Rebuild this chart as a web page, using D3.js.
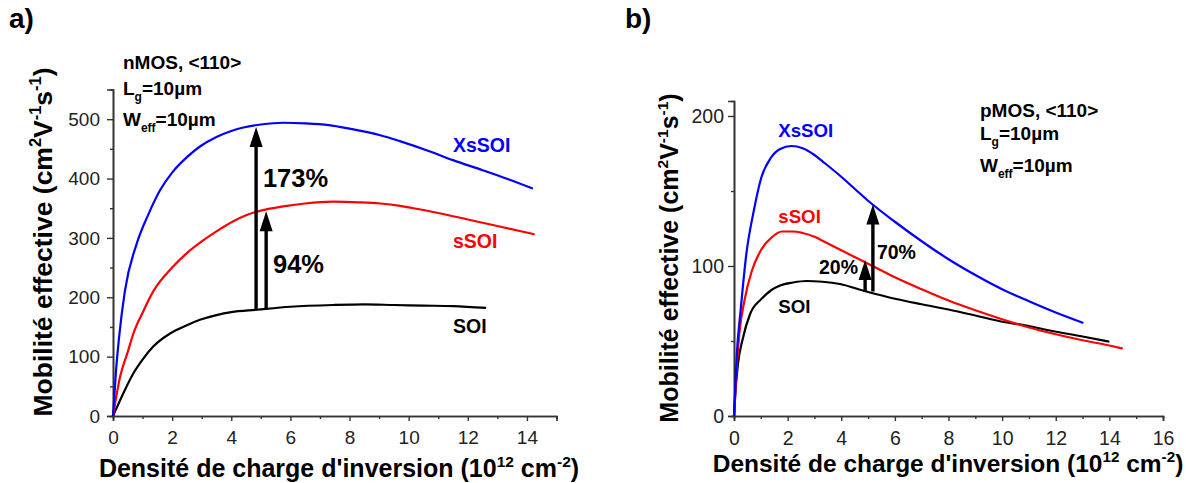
<!DOCTYPE html>
<html><head><meta charset="utf-8">
<script src="https://cdn.jsdelivr.net/npm/d3@7"></script>
<style>
body{margin:0;background:#fff;}
svg{display:block;}
text{font-family:"Liberation Sans",Arial,sans-serif;}
</style></head>
<body><svg id="c" width="1186" height="483"></svg>
<script>
// ---------- DATA: panel a) nMOS ----------
const nXsSOI = [[0,0],[0.1,75],[0.2,130],[0.4,210],[0.8,290],[1.2,340],[1.6,381],[2.0,410],[2.5,436],[2.94,454],[3.5,470],[4.0,480],[4.41,486],[5.0,491],[5.76,494],[6.5,493],[7.3,490],[8.0,484],[9.04,473],[9.7,463],[10.7,446],[11.5,431],[12.5,414],[13.3,400],[14.2,383]];
const nSSOI = [[0,0],[0.24,66],[0.5,108],[0.69,139],[1.0,174],[1.36,210],[2.0,250],[2.49,274],[3.0,294],[3.5,311],[4.07,328],[4.5,338],[5.0,346],[5.76,353],[6.5,358],[7.46,361],[8.3,360],[9.04,358],[9.71,354],[10.16,350],[11.0,342],[12.0,331],[13.0,320],[14.26,306]];
const nSOI = [[0,0],[0.3,33],[0.69,72],[1.0,95],[1.36,117],[1.93,139],[2.5,153],[2.94,162],[3.5,170],[4.0,175],[4.86,179],[6.0,184],[7.46,187],[8.5,188],[9.5,187],[10.5,186],[11.5,185],[12.62,182]];
// ---------- DATA: panel b) pMOS ----------
const pXsSOI = [[0,0],[0.1,40],[0.25,71],[0.46,108],[0.74,137],[1.02,159],[1.37,172],[1.72,178],[2.14,180],[2.56,178.5],[3.0,174],[3.39,168.5],[4.0,159.5],[4.5,151.5],[5.0,143.5],[6.0,129.5],[7.0,116.5],[8.0,104.5],[9.0,94],[10.0,84.5],[11.0,76.5],[12.0,69],[13.03,62]];
const pSSOI = [[0,0],[0.1,32],[0.2,55],[0.39,77],[0.67,97],[1.02,111],[1.4,119],[1.79,123],[2.2,123],[2.56,122],[3.0,119.5],[3.39,116],[4.0,110.5],[4.5,106],[5.0,101.5],[5.5,97],[6.0,92.5],[7.0,84.5],[8.0,77],[9.0,70.5],[10.0,64.5],[11.0,59],[12.0,54.5],[13.0,50.5],[14.0,47],[14.5,45]];
const pSOI = [[0,0],[0.07,20],[0.15,35],[0.32,51],[0.6,68],[1.02,78],[1.4,84],[1.72,87],[2.2,89],[2.7,90],[3.3,89.5],[3.95,88],[4.93,83],[6.05,78],[7.0,74.5],[8.0,71],[9.0,67],[9.96,63],[11.0,60],[11.78,57],[13.0,53],[14.0,49.5]];
// ticks
const nXTicks = [0,2,4,6,8,10,12,14];
const nXMinor = [1,3,5,7,9,11,13,15];
const nYTicks = [0,100,200,300,400,500];
const nYMinor = [50,150,250,350,450];
const pXTicks = [0,2,4,6,8,10,12,14,16];
const pXMinor = [1,3,5,7,9,11,13,15];
const pYTicks = [0,100,200];
const pYMinor = [50,150];
// annotations (data units)
const nArrows = [{x:4.84,y0:178,y1:487},{x:5.18,y0:180,y1:345}];
const nPct = [{x:5.07,y:385,t:"173%"},{x:5.41,y:241,t:"94%"}];
const pArrows = [{x:4.89,y0:83,y1:104},{x:5.18,y0:83,y1:141}];
const pPct = [{x:3.17,y:95,t:"20%"},{x:5.33,y:105,t:"70%"}];
const nCurveLabels = [{x:11.5,y:444,t:"XsSOI",c:"#0000ff"},{x:11.5,y:283,t:"sSOI",c:"#ff0000"},{x:11.5,y:140,t:"SOI",c:"#000"}];
const pCurveLabels = [{x:1.65,y:186,t:"XsSOI",c:"#0000ff"},{x:1.65,y:129,t:"sSOI",c:"#ff0000"},{x:1.65,y:69,t:"SOI",c:"#000"}];
const nInfo = ["nMOS, <110>","L|g|=10µm","W|eff|=10µm"];
const pInfo = ["pMOS, <110>","L|g|=10µm","W|eff|=10µm"];

const svg = d3.select("#c");

function panel(opt){
  const g = svg.append("g");
  const x = d3.scaleLinear().domain(opt.xd).range(opt.xr);
  const y = d3.scaleLinear().domain(opt.yd).range(opt.yr);
  // axes
  g.append("g").attr("transform",`translate(0,${opt.yr[0]})`)
    .call(d3.axisBottom(x).tickValues(opt.xt).tickSize(5).tickPadding(10).tickFormat(d3.format("d")));
  g.append("g").attr("transform",`translate(0,${opt.yr[0]})`)
    .call(d3.axisBottom(x).tickValues(opt.xm).tickSize(3).tickFormat(""));
  g.append("g").attr("transform",`translate(${opt.xr[0]},0)`)
    .call(d3.axisLeft(y).tickValues(opt.yt).tickSize(6).tickPadding(opt.yPad).tickFormat(d3.format("d")));
  g.append("g").attr("transform",`translate(${opt.xr[0]},0)`)
    .call(d3.axisLeft(y).tickValues(opt.ym).tickSize(3).tickFormat(""));
  g.selectAll(".domain").attr("stroke","#333").attr("stroke-width",1.6);
  g.selectAll(".tick line").attr("stroke","#333").attr("stroke-width",1.4);
  g.selectAll(".tick text").attr("font-family","Liberation Sans, Arial, sans-serif").attr("font-size",opt.tickSize).attr("fill","#222");
  // curves
  const line = d3.line().x(d=>x(d[0])).y(d=>y(d[1])).curve(d3.curveMonotoneX);
  opt.series.forEach(s=>{
    g.append("path").datum(s.d).attr("d",line).attr("fill","none").attr("stroke",s.c).attr("stroke-width",2.2);
  });
  // arrows
  opt.arrows.forEach(a=>{
    const xp = x(a.x), ytip = y(a.y1), ybase = y(a.y0);
    const hh = 20, hw = 6.5;
    g.append("line").attr("x1",xp).attr("x2",xp).attr("y1",ybase).attr("y2",ytip+hh-2)
      .attr("stroke","#000").attr("stroke-width",3.4);
    g.append("path").attr("d",`M${xp},${ytip} L${xp+hw},${ytip+hh} L${xp-hw},${ytip+hh} Z`).attr("fill","#000");
  });
  opt.pct.forEach(p=>{
    g.append("text").attr("x",x(p.x)).attr("y",y(p.y)).attr("font-weight","bold")
      .attr("font-size",opt.pctSize).attr("fill","#000").text(p.t);
  });
  opt.labels.forEach(l=>{
    g.append("text").attr("x",x(l.x)).attr("y",y(l.y)).attr("font-weight","bold")
      .attr("font-size",opt.labSize).attr("fill",l.c).text(l.t);
  });
  // info block
  opt.info.forEach((s,i)=>{
    const parts = s.split("|");
    const t = g.append("text").attr("x",opt.infoX).attr("y",opt.infoY[i]).attr("font-weight","bold").attr("font-size",19).attr("fill","#000");
    t.append("tspan").text(parts[0]);
    if(parts.length>1){
      t.append("tspan").attr("dy",6).attr("font-size",12).text(parts[1]);
      t.append("tspan").attr("dy",-6).text(parts[2]);
    }
  });
  // x title
  const ts = opt.titleSize;
  const xt = g.append("text").attr("x",opt.xTitle[0]).attr("y",opt.xTitle[1]).attr("text-anchor","middle")
    .attr("font-weight","bold").attr("font-size",ts).attr("fill","#000");
  xt.append("tspan").text("Densité de charge d'inversion (10");
  xt.append("tspan").attr("dy",-ts*0.42).attr("font-size",ts*0.62).text("12");
  xt.append("tspan").attr("dy",ts*0.42).text(" cm");
  xt.append("tspan").attr("dy",-ts*0.42).attr("font-size",ts*0.62).text("-2");
  xt.append("tspan").attr("dy",ts*0.42).text(")");
  // y title
  const ys = opt.yTitleSize;
  const yt = g.append("text").attr("transform",`translate(${opt.yTitle[0]},${opt.yTitle[1]}) rotate(-90)`)
    .attr("text-anchor","middle").attr("font-weight","bold").attr("font-size",ys).attr("fill","#000");
  const sup = ys*0.62, dd = ys*0.42;
  yt.append("tspan").text("Mobilité effective (cm");
  yt.append("tspan").attr("dy",-dd).attr("font-size",sup).text("2");
  yt.append("tspan").attr("dy",dd).text("V");
  yt.append("tspan").attr("dy",-dd).attr("font-size",sup).text("-1");
  yt.append("tspan").attr("dy",dd).text("s");
  yt.append("tspan").attr("dy",-dd).attr("font-size",sup).text("-1");
  yt.append("tspan").attr("dy",dd).text(")");
  // panel letter
  g.append("text").attr("x",opt.letter[0]).attr("y",opt.letter[1]).attr("font-family","Liberation Serif, Times New Roman, serif")
    .attr("font-weight","bold").attr("font-size",28).attr("fill","#000").text(opt.letter[2]);
}

panel({
  xd:[0,15], xr:[113,556.5], yd:[0,550], yr:[416,89.5],
  xt:nXTicks, xm:nXMinor, yt:nYTicks, ym:nYMinor, yPad:7, tickSize:19,
  series:[{d:nSOI,c:"#000"},{d:nSSOI,c:"#ff0000"},{d:nXsSOI,c:"#0000ff"}],
  arrows:nArrows, pct:nPct, pctSize:25.5, labels:nCurveLabels, labSize:19.5,
  info:nInfo, infoX:123, infoY:[69,95,126],
  xTitle:[339,477], titleSize:25, yTitle:[52,242], yTitleSize:26.5,
  letter:[9,28,"a)"]
});
panel({
  xd:[0,16], xr:[734,1163], yd:[0,210], yr:[416,101],
  xt:pXTicks, xm:pXMinor, yt:pYTicks, ym:pYMinor, yPad:4, tickSize:19.5,
  series:[{d:pSOI,c:"#000"},{d:pSSOI,c:"#ff0000"},{d:pXsSOI,c:"#0000ff"}],
  arrows:pArrows, pct:pPct, pctSize:19.5, labels:pCurveLabels, labSize:18.7,
  info:pInfo, infoX:980, infoY:[117,140,172],
  xTitle:[948,472], titleSize:24.5, yTitle:[678,258], yTitleSize:25,
  letter:[625,28,"b)"]
});
</script></body></html>
